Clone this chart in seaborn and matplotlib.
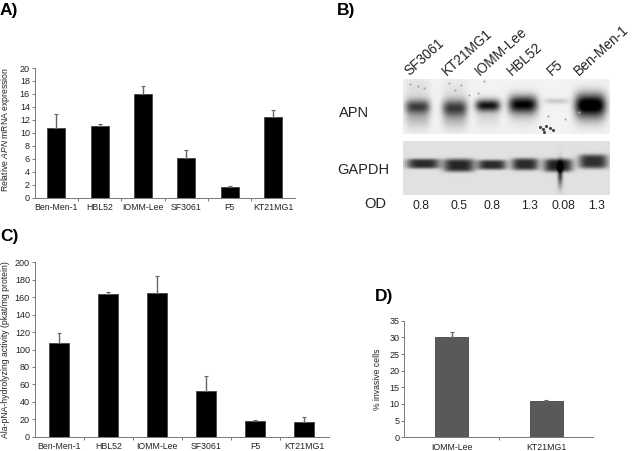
import numpy as np
import pandas as pd
import matplotlib
matplotlib.use("Agg")
import matplotlib.pyplot as plt
import seaborn as sns

# data
cells_a = ['Ben-Men-1', 'HBL52', 'IOMM-Lee', 'SF3061', 'F5', 'KT21MG1']
mrna = [10.8, 11.0, 16.0, 6.1, 1.6, 12.4]
mrna_err = [2.1, 0.3, 1.2, 1.2, 0.15, 1.2]
mrna_ticks = [0, 2, 4, 6, 8, 10, 12, 14, 16, 18, 20]

activity = [107, 164, 165, 52, 18, 17]
activity_err = [12, 2, 19, 18, 1.5, 6]
activity_ticks = [0, 20, 40, 60, 80, 100, 120, 140, 160, 180, 200]

cells_d = ['IOMM-Lee', 'KT21MG1']
invasive = [30, 11]
invasive_err = [1.7, 0.3]
invasive_ticks = [0, 5, 10, 15, 20, 25, 30, 35]

lanes_b = ['SF3061', 'KT21MG1', 'IOMM-Lee', 'HBL52', 'F5', 'Ben-Men-1']
od_values = ['0.8', '0.5', '0.8', '1.3', '0.08', '1.3']

# blot bands in percent of the blot, darkness 0-1
apn_x = [7, 25, 41, 58, 74.2, 90.6]
apn_y = [50, 52, 48, 46, 40, 46]
apn_w = [6, 6, 6, 7, 6, 7.5]
apn_h = [13, 15, 11, 16, 5, 20]
apn_dark = [0.62, 0.64, 0.85, 0.92, 0.16, 1.0]
apn_smear = [0.22, 0.22, 0.1, 0.1, 0.0, 0.22]
apn_up = [0.08, 0.06, 0.0, 0.0, 0.0, 0.0]
faint_x = [3, 7, 10, 22, 25, 28, 32, 36, 39, 85, 70, 78]
faint_y = [8, 13, 16, 6, 20, 10, 28, 24, 3, 60, 66, 72]
clump_x = [66, 67.5, 69, 71, 72.5, 68]
clump_y = [86, 90, 85, 88, 92, 95]
gapdh_x = [9.7, 27, 43, 59, 75, 92]
gapdh_y = [43, 46, 45, 44, 46, 39]
gapdh_w = [8, 7.5, 7, 6.5, 7, 7]
gapdh_h = [9, 12, 9, 11, 12, 13]
gapdh_dark = [0.72, 0.74, 0.72, 0.72, 0.76, 0.7]

W, H = 634, 451
sns.set_theme(style='white')
plt.rcParams['font.family'] = ['Liberation Sans', 'DejaVu Sans']
plt.rcParams['mathtext.fontset'] = 'custom'
plt.rcParams['mathtext.rm'] = 'Liberation Sans'
plt.rcParams['mathtext.it'] = 'Liberation Sans:italic'

fig = plt.figure(figsize=(W / 100, H / 100), dpi=100, facecolor='white')
TEXT = '#222222'
AXIS = '#777777'


def box(left, top, right, bottom):
    return fig.add_axes([left / W, 1 - bottom / H, (right - left) / W, (bottom - top) / H])


def put(x, y, s, **kw):
    kw.setdefault('color', TEXT)
    fig.text(x / W, 1 - y / H, s, **kw)


def bar_panel(ax, cats, vals, errs, ticks, width, color, size):
    df = pd.DataFrame({'cell': cats, 'value': vals})
    sns.barplot(data=df, x='cell', y='value', color=color, width=width, saturation=1,
                edgecolor='#444444', linewidth=0.6, errorbar=None, ax=ax)
    ax.errorbar(range(len(cats)), vals, yerr=[[0] * len(cats), errs], fmt='none',
                ecolor='#666666', elinewidth=1.0, capsize=1.6, capthick=0.8)
    ax.set_xlim(-0.5, len(cats) - 0.5)
    ax.set_ylim(ticks[0], ticks[-1])
    ax.set_yticks(ticks)
    ax.set_xticks(range(len(cats)), cats)
    ax.set_xticks(np.arange(0.5, len(cats) - 1), minor=True)
    ax.set_xlabel('')
    ax.set_ylabel('')
    sns.despine(ax=ax)
    for side in ['left', 'bottom']:
        ax.spines[side].set_color(AXIS)
        ax.spines[side].set_linewidth(0.7)
    ax.tick_params(axis='x', which='major', length=0, pad=4, labelsize=size, labelcolor=TEXT)
    ax.tick_params(axis='x', which='minor', length=2, width=0.7, color=AXIS, bottom=True)
    ax.tick_params(axis='y', length=2, width=0.7, color=AXIS, left=True, pad=1.5,
                   labelsize=6.5, labelcolor=TEXT)


def blot(ax, bg, xs, ys, ws, hs, darks, power=2, smears=None, ups=None, tail=False):
    xx, yy = np.meshgrid(np.linspace(0, 100, 414), np.linspace(0, 100, 110))
    img = np.zeros_like(xx)
    for i in range(len(xs)):
        across = np.exp(-((xx - xs[i]) / ws[i]) ** 4)
        img += darks[i] * across * np.exp(-np.abs((yy - ys[i]) / hs[i]) ** power)
        if smears is not None and smears[i] > 0:
            img += smears[i] * across * np.exp(-((yy - ys[i] - 20) / 20) ** 2)
        if ups is not None and ups[i] > 0:
            img += ups[i] * across * np.exp(-((yy - ys[i] + 30) / 25) ** 2)
    if tail:
        img += 0.65 * np.exp(-((xx - 76) / 1.2) ** 2) * np.exp(-((yy - 62) / 22) ** 2)
    ax.imshow(np.clip(bg - img, 0, 1), cmap='gray', vmin=0, vmax=1, aspect='auto',
              extent=(0, 100, 100, 0), interpolation='bilinear')
    ax.axis('off')


# A)
ax_a = box(34.7, 68, 294.7, 197.7)
bar_panel(ax_a, cells_a, mrna, mrna_err, mrna_ticks, 0.42, 'black', 6.3)
put(5.5, 130, r'Relative $\mathit{APN}$ mRNA expression', rotation=90, ha='center', va='center', fontsize=6.2)

# B)
ax_apn = box(403.3, 79.3, 610, 134.3)
blot(ax_apn, 0.95, apn_x, apn_y, apn_w, apn_h, apn_dark, smears=apn_smear, ups=apn_up)
ax_apn.scatter(faint_x, faint_y, s=2.5, color='#aaaaaa', linewidths=0)
ax_apn.scatter(clump_x, clump_y, s=5, color='#444444', linewidths=0)
ax_apn.set_xlim(0, 100)
ax_apn.set_ylim(100, 0)
ax_gapdh = box(403.3, 140.7, 610, 195.3)
blot(ax_gapdh, 0.88, gapdh_x, gapdh_y, gapdh_w, gapdh_h, gapdh_dark, power=4, tail=True)

for name, lx in zip(lanes_b, [409, 447, 480, 512, 552, 579]):
    put(lx, 76, name, rotation=42, rotation_mode='anchor', ha='left', va='baseline', fontsize=9.8)
for val, lx in zip(od_values, [421, 459, 492, 530, 563, 597]):
    put(lx, 206, val, ha='center', va='center', fontsize=8.7)
put(339, 113, 'APN', ha='left', va='center', fontsize=10.5)
put(337, 170, 'GAPDH', ha='left', va='center', fontsize=10.5)
put(375, 204, 'OD', ha='center', va='center', fontsize=10.5)

# C)
ax_c = box(34.7, 262.3, 328.7, 436.7)
bar_panel(ax_c, cells_a, activity, activity_err, activity_ticks, 0.41, 'black', 6.3)
put(5.5, 350, 'Ala-pNA-hydrolyzing activity (pkat/mg protein)', rotation=90, ha='center', va='center', fontsize=6.2)

# D)
ax_d = box(404.3, 320.7, 593.3, 437.3)
bar_panel(ax_d, cells_d, invasive, invasive_err, invasive_ticks, 0.35, '#595959', 6.3)
put(377, 379, '% invasive cells', rotation=90, ha='center', va='center', fontsize=6.2)

for letter, lx, ly in [('A)', 0, 10), ('B)', 337, 10), ('C)', 0, 237), ('D)', 375, 297)]:
    put(lx, ly, letter, ha='left', va='center', fontsize=12.5, fontweight='bold', color='black')

fig.savefig('out.png', dpi=100)
